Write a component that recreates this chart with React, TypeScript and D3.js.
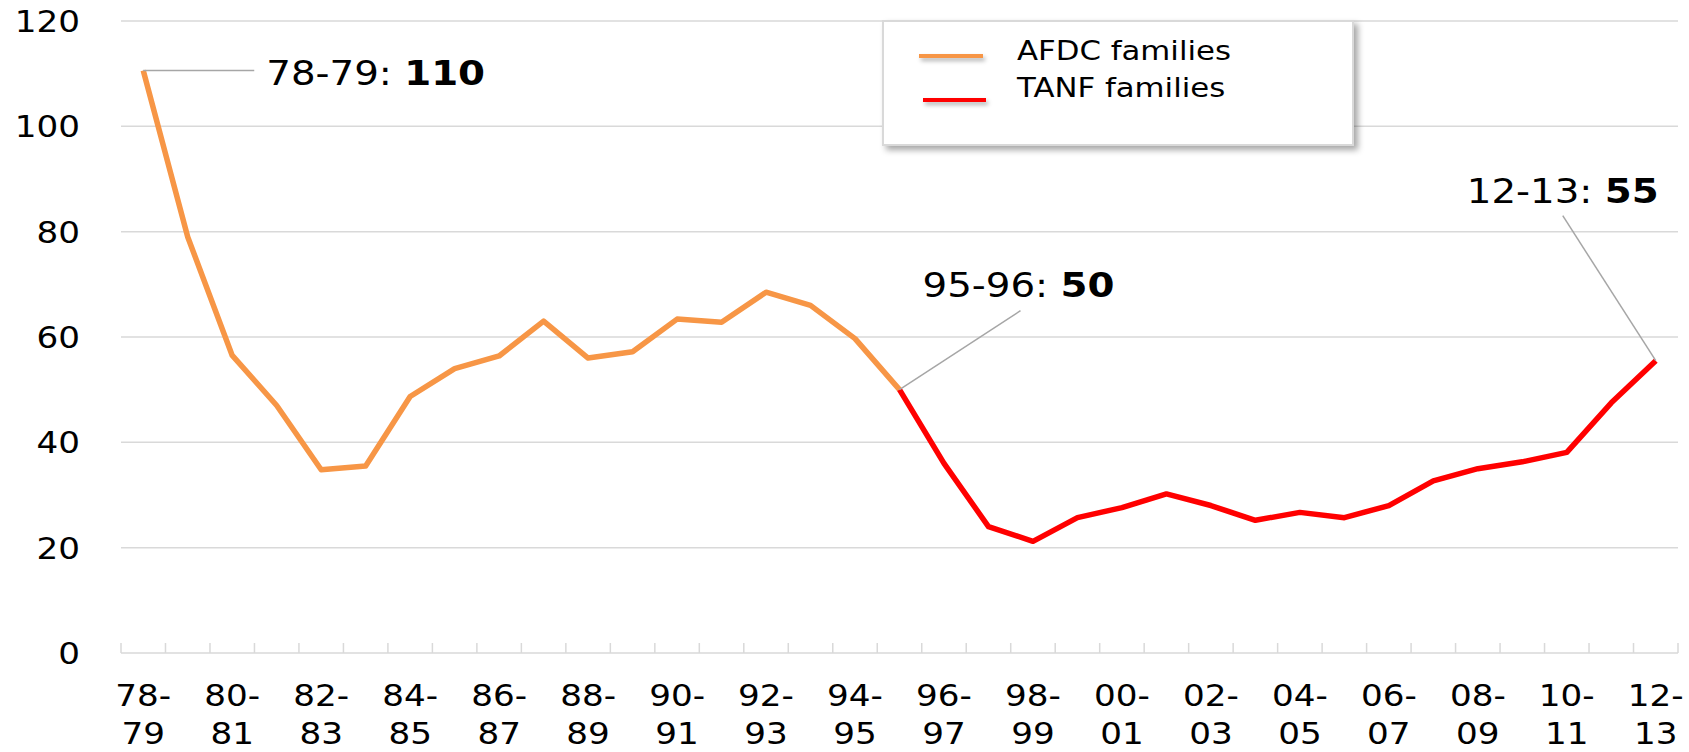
import * as d3 from 'd3';

const categories = [
  '78-79', '79-80', '80-81', '81-82', '82-83', '83-84', '84-85', '85-86', '86-87',
  '87-88', '88-89', '89-90', '90-91', '91-92', '92-93', '93-94', '94-95', '95-96',
  '96-97', '97-98', '98-99', '99-00', '00-01', '01-02', '02-03', '03-04', '04-05',
  '05-06', '06-07', '07-08', '08-09', '09-10', '10-11', '11-12', '12-13',
];

// 78-79 .. 95-96
const afdcValues = [
  110.6, 79, 56.5, 47, 34.8, 35.5, 48.7, 54, 56.4,
  63, 56, 57.2, 63.4, 62.8, 68.5, 66, 59.7, 50,
];

// 95-96 .. 12-13
const tanfValues = [
  50, 36, 24, 21.2, 25.7, 27.6, 30.2, 28, 25.2,
  26.7, 25.7, 28, 32.7, 35, 36.3, 38.1, 47.5, 55.5,
];

const yTicks = [0, 20, 40, 60, 80, 100, 120];

const callouts = [
  { cat: '78-79', label: '78-79:', bold: '110' },
  { cat: '95-96', label: '95-96:', bold: '50' },
  { cat: '12-13', label: '12-13:', bold: '55' },
];

const W = 1689;
const H = 752;
const margin = { top: 21, right: 11, bottom: 99, left: 121 };
const FONT = 'DejaVu Sans';
const SX = 1.14; // text in the original is a bit wide

function Txt({ x, y, size, anchor = 'start', children }: any) {
  return (
    <text
      transform={`translate(${x},${y}) scale(${SX},1)`}
      fontFamily={FONT}
      fontSize={size}
      textAnchor={anchor}
      fill="#000"
    >
      {children}
    </text>
  );
}

export default function App() {
  const innerW = W - margin.left - margin.right;
  const innerH = H - margin.top - margin.bottom;

  const x = d3.scaleBand().domain(categories).range([margin.left, margin.left + innerW]);
  const y = d3.scaleLinear().domain([0, 120]).range([margin.top + innerH, margin.top]);
  const cx = (c: string) => (x(c) as number) + x.bandwidth() / 2;

  const afdc = afdcValues.map((v, i) => ({ c: categories[i], v }));
  const tanf = tanfValues.map((v, i) => ({ c: categories[i + afdcValues.length - 1], v }));
  const allPts = [...afdc, ...tanf.slice(1)];
  const valueOf = (c: string) => allPts.find((p) => p.c === c)!.v;

  const line = d3
    .line<{ c: string; v: number }>()
    .x((d) => cx(d.c))
    .y((d) => y(d.v));

  // leader line start and label position, relative to the data point
  const calloutLayout: Record<string, { lx: number; ly: number; tx: number; ty: number }> = {
    '78-79': { lx: 111, ly: 0, tx: 123, ty: 14 },
    '95-96': { lx: 121, ly: -79, tx: 23, ty: -93 },
    '12-13': { lx: -93, ly: -145, tx: -189, ty: -158 },
  };

  const boundaries = d3.range(categories.length + 1).map((i) => margin.left + i * x.step());
  const y0 = y(0);

  const legendItems = [
    { name: 'AFDC families', color: '#F79646', x1: 919, x2: 983, ly: 56, ty: 60 },
    { name: 'TANF families', color: '#FF0000', x1: 923, x2: 986, ly: 100, ty: 97 },
  ];

  return (
    <svg
      width={W}
      height={H}
      style={{ position: 'absolute', left: 0, top: 0, background: '#fff' }}
    >
      <defs>
        <filter id="shadow" x="-10%" y="-10%" width="130%" height="140%">
          <feDropShadow dx="4" dy="4" stdDeviation="3" floodColor="#000" floodOpacity="0.35" />
        </filter>
        <filter id="blur" filterUnits="userSpaceOnUse" x="880" y="20" width="480" height="130">
          <feGaussianBlur stdDeviation="2" />
        </filter>
      </defs>

      {/* gridlines */}
      {yTicks.filter((t) => t > 0).map((t) => (
        <line key={t} x1={margin.left} x2={margin.left + innerW} y1={y(t)} y2={y(t)} stroke="#d9d9d9" strokeWidth={1.5} />
      ))}

      {/* x axis */}
      <line x1={margin.left} x2={margin.left + innerW} y1={y0} y2={y0} stroke="#d9d9d9" strokeWidth={1.5} />
      {boundaries.map((bx, i) => (
        <line key={i} x1={bx} x2={bx} y1={y0} y2={y0 - 10} stroke="#d9d9d9" strokeWidth={1.5} />
      ))}

      {/* y labels */}
      {yTicks.map((t) => (
        <Txt key={t} x={80} y={y(t) + 11} size={30} anchor="end">{t}</Txt>
      ))}

      {/* x labels, every other category, split on the dash */}
      {categories.filter((_, i) => i % 2 === 0).map((c) => {
        const [a, b] = c.split('-');
        return (
          <g key={c}>
            <Txt x={cx(c)} y={706} size={30} anchor="middle">{a + '-'}</Txt>
            <Txt x={cx(c)} y={744} size={30} anchor="middle">{b}</Txt>
          </g>
        );
      })}

      {/* series */}
      <path d={line(afdc) || ''} fill="none" stroke="#F79646" strokeWidth={5.5} strokeLinejoin="round" />
      <path d={line(tanf) || ''} fill="none" stroke="#FF0000" strokeWidth={5.5} strokeLinejoin="round" />

      {/* callouts */}
      {callouts.map((co) => {
        const px = cx(co.cat);
        const py = y(valueOf(co.cat));
        const l = calloutLayout[co.cat];
        return (
          <g key={co.cat}>
            <line x1={px} y1={py} x2={px + l.lx} y2={py + l.ly} stroke="#a6a6a6" strokeWidth={1.5} />
            <text
              transform={`translate(${px + l.tx},${py + l.ty}) scale(${SX},1)`}
              fontFamily={FONT}
              fontSize={34}
              fill="#000"
            >
              {co.label + ' '}
              <tspan fontWeight="bold">{co.bold}</tspan>
            </text>
          </g>
        );
      })}

      {/* legend */}
      <g>
        <rect x={883} y={21} width={470} height={124} fill="#fff" stroke="#d9d9d9" strokeWidth={2} filter="url(#shadow)" />
        {legendItems.map((it) => (
          <g key={it.name}>
            <line x1={it.x1 + 2} x2={it.x2 + 2} y1={it.ly + 3} y2={it.ly + 3} stroke="#000" strokeOpacity={0.3} strokeWidth={4} filter="url(#blur)" />
            <line x1={it.x1} x2={it.x2} y1={it.ly} y2={it.ly} stroke={it.color} strokeWidth={4} />
            <Txt x={1017} y={it.ty} size={27}>{it.name}</Txt>
          </g>
        ))}
      </g>
    </svg>
  );
}
